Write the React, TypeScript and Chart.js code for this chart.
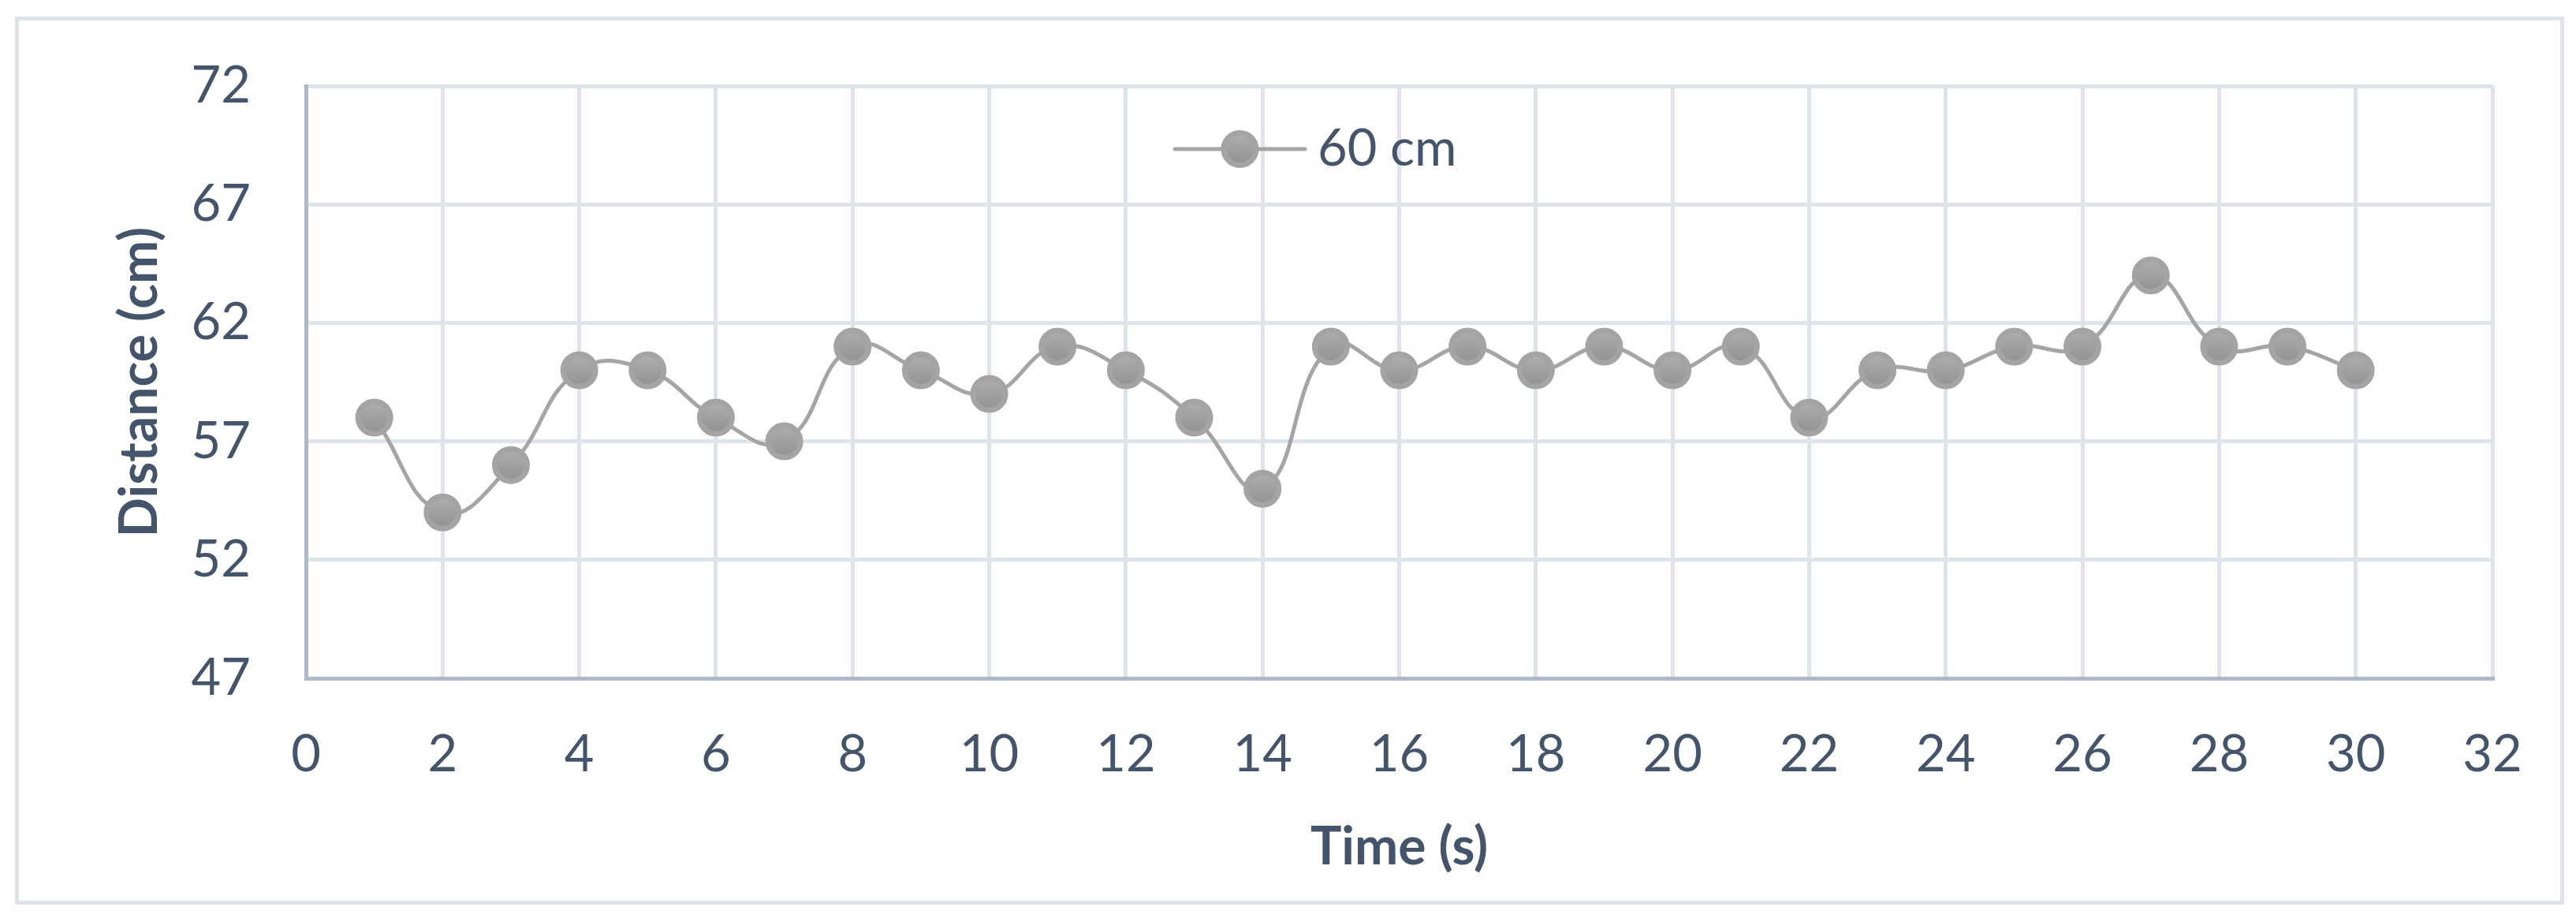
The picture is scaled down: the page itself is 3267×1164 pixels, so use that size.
import React, { useEffect, useRef } from "react";
import { Chart, registerables } from "chart.js";

Chart.register(...registerables);

const timeSeconds = [1, 2, 3, 4, 5, 6, 7, 8, 9, 10, 11, 12, 13, 14, 15, 16, 17, 18, 19, 20, 21, 22, 23, 24, 25, 26, 27, 28, 29, 30];
const distance60 = [58, 54, 56, 60, 60, 58, 57, 61, 60, 59, 61, 60, 58, 55, 61, 60, 61, 60, 61, 60, 61, 58, 60, 60, 61, 61, 64, 61, 61, 60];
const seriesLabel = "60 cm";
const xAxisTitle = "Time (s)";
const yAxisTitle = "Distance (cm)";
const xRange = { min: 0, max: 32, step: 2 };
const yRange = { min: 47, max: 72, step: 5 };

const W = 3267;
const H = 1164;
const FONT = "Lato, 'Open Sans', sans-serif";
const TEXT = "#44546a";
const GRID = "#dfe4eb";
const AXIS = "#adb9ca";
const LINE = "#a5a5a5";

function markerFill(ctx: any) {
  const chart = ctx.chart;
  const ys = chart.scales && chart.scales.y;
  if (!ys || ctx.type !== "data" || !ctx.parsed) return "#a0a0a0";
  const py = ys.getPixelForValue(ctx.parsed.y);
  if (!Number.isFinite(py)) return "#a0a0a0";
  const g = chart.ctx.createLinearGradient(0, py - 18, 0, py + 18);
  g.addColorStop(0, "#adadad");
  g.addColorStop(1, "#939393");
  return g;
}

const legendPlugin = {
  id: "innerLegend",
  afterDraw(chart: any) {
    const ds = chart.data.datasets[0];
    const c = chart.ctx;
    const area = chart.chartArea;
    const cy = area.top + 80;
    const x0 = area.left + 1102;
    const x1 = area.left + 1267;
    const cx = (x0 + x1) / 2;
    c.save();
    c.strokeStyle = LINE;
    c.lineWidth = 5;
    c.lineCap = "round";
    c.beginPath();
    c.moveTo(x0, cy);
    c.lineTo(x1, cy);
    c.stroke();
    const g = c.createLinearGradient(0, cy - 18, 0, cy + 18);
    g.addColorStop(0, "#adadad");
    g.addColorStop(1, "#939393");
    c.beginPath();
    c.arc(cx, cy, 20.5, 0, Math.PI * 2);
    c.fillStyle = g;
    c.fill();
    c.lineWidth = 7;
    c.strokeStyle = "#a4a4a4";
    c.stroke();
    c.fillStyle = TEXT;
    c.font = `65px ${FONT}`;
    c.textAlign = "left";
    c.textBaseline = "middle";
    c.fillText(ds.label, x1 + 16, cy);
    c.restore();
  },
};

export default function App() {
  const ref = useRef<HTMLCanvasElement | null>(null);

  useEffect(() => {
    if (!ref.current) return;
    const chart = new Chart(ref.current, {
      type: "line",
      data: {
        datasets: [
          {
            label: seriesLabel,
            data: timeSeconds.map((t, i) => ({ x: t, y: distance60[i] })),
            borderColor: LINE,
            borderWidth: 5,
            tension: 0.45,
            pointRadius: 20.5,
            pointHoverRadius: 20.5,
            pointBorderWidth: 7,
            pointBorderColor: "#a4a4a4",
            pointBackgroundColor: markerFill,
            fill: false,
          },
        ],
      },
      options: {
        animation: false,
        responsive: false,
        devicePixelRatio: 1,
        events: [],
        layout: { padding: { left: 0, right: W - 3161, top: 102, bottom: 0 } },
        plugins: {
          legend: { display: false },
          tooltip: { enabled: false },
        },
        scales: {
          x: {
            type: "linear",
            min: xRange.min,
            max: xRange.max,
            afterFit: (s: any) => {
              s.height = H - 860;
            },
            ticks: {
              stepSize: xRange.step,
              padding: 58,
              color: TEXT,
              font: { family: FONT, size: 65 },
              maxRotation: 0,
            },
            grid: { color: GRID, lineWidth: 5, drawTicks: false },
            border: { color: AXIS, width: 5 },
            title: {
              display: true,
              text: xAxisTitle,
              color: TEXT,
              font: { family: FONT, size: 66, weight: "bold" },
              padding: { top: 0, bottom: 50 },
            },
          },
          y: {
            type: "linear",
            min: yRange.min,
            max: yRange.max,
            afterFit: (s: any) => {
              s.width = 388;
            },
            ticks: {
              stepSize: yRange.step,
              padding: 70,
              color: TEXT,
              font: { family: FONT, size: 65 },
            },
            grid: { color: GRID, lineWidth: 5, drawTicks: false },
            border: { color: AXIS, width: 5 },
            title: {
              display: true,
              text: yAxisTitle,
              color: TEXT,
              font: { family: FONT, size: 66, weight: "bold" },
              padding: { top: 138, bottom: 0 },
            },
          },
        },
      },
      plugins: [legendPlugin],
    });
    return () => chart.destroy();
  }, []);

  return (
    <div style={{ position: "fixed", left: 0, top: 0, width: W, height: H, background: "#ffffff" }}>
      <canvas ref={ref} width={W} height={H} style={{ display: "block", width: W, height: H }} />
      <div
        style={{
          position: "absolute",
          left: 19,
          top: 21,
          width: 3252 - 19,
          height: 1147 - 21,
          border: "5px solid #dfe4eb",
          boxSizing: "border-box",
          pointerEvents: "none",
        }}
      />
    </div>
  );
}
